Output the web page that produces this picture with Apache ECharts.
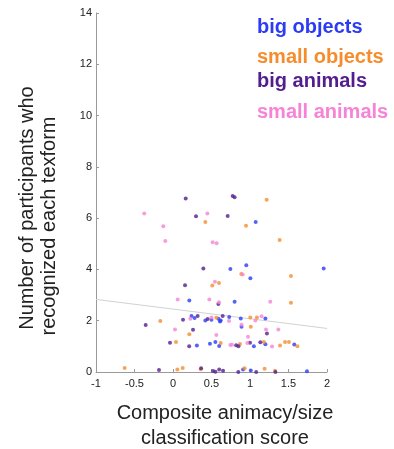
<!DOCTYPE html>
<html>
<head>
<meta charset="utf-8">
<script src="https://cdn.jsdelivr.net/npm/echarts@6/dist/echarts.min.js"></script>
<style>
  html, body { margin: 0; padding: 0; background: #fff; }
  #chart { width: 394px; height: 449px; }
</style>
</head>
<body>
<div id="chart"></div>
<script>
// Category names and colours
const groupNames = ['big objects', 'small objects', 'big animals', 'small animals'];
const groupColors = ['#2c3cf5', '#f58d2e', '#521e8e', '#f683d6'];

// Composite score (x) vs number of participants who recognized the texform (y, jittered)
const bigObjects = [
  [1.074, 5.85], [0.745, 4.02], [0.952, 4.16], [1.957, 4.04], [1.005, 3.66],
  [0.212, 2.79], [0.80, 2.74], [0.24, 2.18], [0.28, 2.11], [0.42, 2.01],
  [0.50, 2.04], [0.59, 2.08], [0.62, 2.01], [0.61, 1.97], [0.73, 2.14],
  [0.88, 2.09], [1.20, 2.09], [0.89, 1.76], [0.31, 1.03], [0.48, 1.10],
  [0.55, 1.17], [0.60, 1.01], [1.05, 1.00], [1.20, 1.08], [1.575, 1.07],
  [0.91, 0.10], [1.01, 0.06], [1.74, 0.03]
];
const smallObjects = [
  [1.216, 6.72], [0.42, 5.85], [0.948, 5.70], [1.385, 5.15], [0.887, 3.82],
  [1.532, 3.74], [0.597, 3.47], [0.51, 3.37], [1.532, 2.70], [-0.165, 1.99],
  [0.563, 2.12], [1.004, 2.13], [1.09, 2.13], [1.01, 1.76], [0.212, 1.47],
  [0.039, 1.17], [0.62, 1.13], [0.87, 1.09], [1.18, 1.17], [1.39, 1.03],
  [1.455, 1.17], [1.506, 1.17], [1.615, 1.00], [-0.628, 0.16], [0.056, 0.10],
  [0.126, 0.16], [0.36, 0.11], [0.93, 0.15], [1.19, 0.13], [1.325, 0.05]
];
const bigAnimals = [
  [0.165, 6.77], [0.775, 6.86], [0.80, 6.81], [0.299, 6.07], [0.71, 6.08],
  [0.394, 4.04], [0.156, 3.38], [0.589, 2.65], [-0.355, 1.83], [0.13, 2.04],
  [0.32, 2.18], [0.45, 2.07], [0.645, 2.18], [0.26, 1.65], [1.22, 1.50],
  [-0.039, 1.14], [0.21, 1.00], [0.82, 1.04], [0.85, 1.00], [1.00, 1.14],
  [1.134, 1.16], [-0.182, 0.08], [0.365, 0.15], [0.52, 0.04], [0.55, 0.01],
  [0.60, 0.10], [0.65, 0.05], [0.848, 0.00], [1.08, 0.00], [1.33, 0.00]
];
const smallAnimals = [
  [-0.373, 6.18], [0.446, 6.18], [-0.126, 5.68], [-0.10, 5.11], [0.515, 5.06],
  [0.567, 5.02], [0.905, 3.80], [0.545, 3.52], [0.061, 2.83], [0.472, 2.83],
  [0.597, 2.72], [1.263, 2.74], [0.225, 2.08], [0.50, 2.13], [0.727, 1.99],
  [1.07, 2.01], [1.15, 2.17], [0.026, 1.66], [0.89, 1.84], [1.208, 1.66],
  [1.368, 1.66], [0.563, 1.44], [0.974, 1.37], [0.745, 1.05], [0.766, 1.06],
  [0.965, 1.13], [1.286, 0.99]
];

// Least-squares fit line endpoints
const fitX = [-1, 2];
const fitY = [2.83, 1.70];

// Axis ranges
const xTicks = [-1, -0.5, 0, 0.5, 1, 1.5, 2];
const yTicks = [0, 2, 4, 6, 8, 10, 12, 14];

const groups = [bigObjects, smallObjects, bigAnimals, smallAnimals];
const font = '"Liberation Sans", Arial, Helvetica, sans-serif';

const chart = echarts.init(document.getElementById('chart'), null, { renderer: 'canvas' });

const axisCommon = {
  axisLine: { show: true, onZero: false, lineStyle: { color: '#9a9a9a', width: 1 } },
  axisTick: { show: true, inside: true, length: 3, lineStyle: { color: '#9a9a9a' } },
  splitLine: { show: false },
  axisLabel: { color: '#222', fontSize: 11, fontFamily: font }
};

const scatterSeries = groups.map((pts, i) => ({
  type: 'scatter',
  name: groupNames[i],
  data: pts,
  symbol: 'circle',
  symbolSize: 4,
  itemStyle: { color: groupColors[i] },
  z: 3
}));

const legendY = [27, 57, 81, 112];

chart.setOption({
  animation: false,
  backgroundColor: '#fff',
  grid: { left: 96, right: 67, top: 13, bottom: 77, containLabel: false },
  xAxis: Object.assign({
    type: 'value',
    min: xTicks[0],
    max: xTicks[xTicks.length - 1],
    interval: 0.5
  }, axisCommon, {
    axisLabel: Object.assign({}, axisCommon.axisLabel, { margin: 6 })
  }),
  yAxis: Object.assign({
    type: 'value',
    min: yTicks[0],
    max: yTicks[yTicks.length - 1],
    interval: 2
  }, axisCommon, {
    axisLabel: Object.assign({}, axisCommon.axisLabel, { margin: 4 })
  }),
  series: [
    {
      type: 'line',
      data: fitX.map((x, i) => [x, fitY[i]]),
      symbol: 'none',
      lineStyle: { color: '#d2d2d2', width: 1 },
      silent: true,
      z: 2
    }
  ].concat(scatterSeries),
  graphic: [
    // y-axis title (two lines, rotated)
    {
      type: 'text', x: 27, y: 208, rotation: Math.PI / 2,
      style: { text: 'Number of participants who', font: '20px ' + font,
        fill: '#222', textAlign: 'center', textVerticalAlign: 'middle' }
    },
    {
      type: 'text', x: 49, y: 226, rotation: Math.PI / 2,
      style: { text: 'recognized each texform', font: '20px ' + font,
        fill: '#222', textAlign: 'center', textVerticalAlign: 'middle' }
    },
    // x-axis title
    {
      type: 'text', x: 225, y: 413,
      style: { text: 'Composite animacy/size', font: '20px ' + font,
        fill: '#222', textAlign: 'center', textVerticalAlign: 'middle' }
    },
    {
      type: 'text', x: 225, y: 438,
      style: { text: 'classification score', font: '20px ' + font,
        fill: '#222', textAlign: 'center', textVerticalAlign: 'middle' }
    }
  ].concat(groupNames.map((name, i) => ({
    type: 'text', x: 257, y: legendY[i],
    style: { text: name, font: 'bold 20px ' + font, fill: groupColors[i],
      textAlign: 'left', textVerticalAlign: 'middle' }
  })))
});
</script>
</body>
</html>
